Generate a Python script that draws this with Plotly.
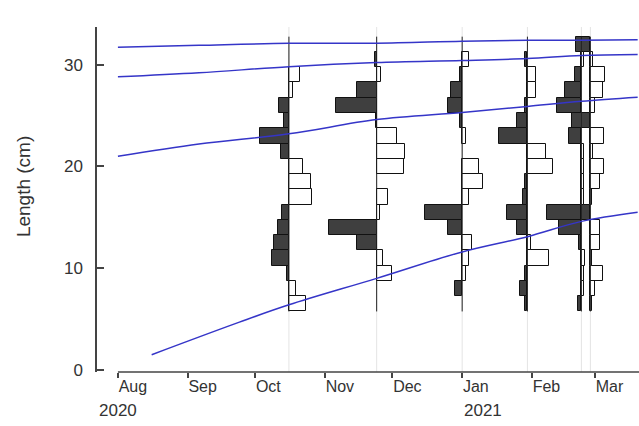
import pandas as pd
import plotly.graph_objects as go

# ---------------- data ----------------
ORIGIN = "2020-08-01"

bin_mid = [6.5, 8.0, 9.5, 11.0, 12.5, 14.0, 15.5, 17.0, 18.5, 20.0,
           21.5, 23.0, 24.5, 26.0, 27.5, 29.0, 30.5, 32.0]

sample_dates = ["2020-10-16", "2020-11-24", "2021-01-01",
                "2021-01-30", "2021-02-23", "2021-02-27"]

# restructured frequency scores per bin (bottom -> top)
score_s1 = [0.35, 0.15, -0.04, -0.36, -0.31, -0.23, -0.15, 0.48, 0.46, 0.29,
            -0.17, -0.60, -0.10, -0.21, 0.08, 0.23, 0, 0]
score_s2 = [0, 0, 0.33, 0.13, -0.40, -1.00, 0.06, 0.23, 0, 0.58,
            0.60, 0.42, -0.02, -0.85, -0.42, 0.08, -0.04, 0]
score_s3 = [0, -0.15, 0.08, 0.15, 0.21, -0.29, -0.77, 0.15, 0.44, 0.35,
            0, 0.08, -0.04, -0.29, -0.23, -0.04, 0.15, 0]
score_s4 = [-0.04, -0.15, -0.06, 0.46, 0.08, -0.21, -0.42, -0.10, -0.06, 0.54,
            0.38, -0.60, -0.21, -0.06, 0.17, 0.17, -0.04, 0]
score_s5 = [-0.08, 0.06, 0.06, 0.08, -0.06, -0.46, -0.71, 0.06, 0.06, 0.06,
            0.06, -0.25, -0.06, -0.50, -0.35, -0.13, 0.06, 0]
score_s6 = [0.04, 0.10, 0.27, 0.04, 0.21, 0.21, -0.19, 0.04, 0.21, 0.29,
            0.06, 0.29, -0.38, 0.10, 0.27, 0.31, 0.06, -0.31]
scores = [score_s1, score_s2, score_s3, score_s4, score_s5, score_s6]

# growth curves (cohorts): dates and lengths
curve_dates_a = ["2020-08-16", "2020-09-24", "2020-10-16", "2020-11-24",
                 "2021-01-01", "2021-01-30", "2021-02-23", "2021-03-20"]
curve_len_a = [1.5, 4.7, 6.4, 9.0, 11.6, 13.1, 14.6, 15.5]
curve_dates_bcd = ["2020-08-01", "2020-09-06", "2020-10-16", "2020-11-24",
                   "2021-01-01", "2021-01-30", "2021-02-23", "2021-03-20"]
curve_len_b = [21.0, 22.2, 23.2, 24.6, 25.3, 25.9, 26.4, 26.8]
curve_len_c = [28.8, 29.2, 29.8, 30.2, 30.4, 30.6, 30.9, 31.0]
curve_len_d = [31.7, 31.9, 32.1, 32.1, 32.3, 32.4, 32.4, 32.45]

month_starts = ["2020-08-01", "2020-09-01", "2020-10-01", "2020-11-01",
                "2020-12-01", "2021-01-01", "2021-02-01", "2021-03-01"]
month_labels = ["Aug", "Sep", "Oct", "Nov", "Dec", "Jan", "Feb", "Mar"]
year_labels = ["2020", "2021"]
y_ticks = [0, 10, 20, 30]

# ---------------- styling constants ----------------
BIN_W = 1.5
SCALE_DAYS = 21.3          # days of x per unit score
X_RANGE = [-9.3, 231.6]
Y_RANGE = [-0.2, 33.7]
FONT = "Liberation Sans, Arial, sans-serif"
TXT = "#333333"
AXC = "#444444"
BLUE = "#3535c8"


def day(s):
    return (pd.Timestamp(s) - pd.Timestamp(ORIGIN)).days


fig = go.Figure()

# light vertical lines at sampling dates
shapes = []
for d in sample_dates:
    shapes.append(dict(type="line", xref="x", yref="paper", x0=day(d), x1=day(d),
                       y0=0, y1=1, line=dict(color="#e4e4e4", width=1), layer="below"))

# bars
blk_y, blk_x, blk_b = [], [], []
wht_y, wht_x, wht_b = [], [], []
for d, sc in zip(sample_dates, scores):
    for m, v in zip(bin_mid, sc):
        if v < 0:
            blk_y.append(m); blk_x.append(v * SCALE_DAYS); blk_b.append(day(d))
        elif v > 0:
            wht_y.append(m); wht_x.append(v * SCALE_DAYS); wht_b.append(day(d))

fig.add_trace(go.Bar(orientation="h", y=blk_y, x=blk_x, base=blk_b, width=BIN_W,
                     marker=dict(color="#3f3f3f", line=dict(color="#111111", width=1)),
                     showlegend=False, hoverinfo="skip"))
fig.add_trace(go.Bar(orientation="h", y=wht_y, x=wht_x, base=wht_b, width=BIN_W,
                     marker=dict(color="white", line=dict(color="#111111", width=1)),
                     showlegend=False, hoverinfo="skip"))

# baselines for each sample
lo = bin_mid[0] - BIN_W / 2
hi = bin_mid[-1] + BIN_W / 2
for d in sample_dates:
    fig.add_trace(go.Scatter(x=[day(d), day(d)], y=[lo, hi], mode="lines",
                             line=dict(color="#222222", width=1),
                             showlegend=False, hoverinfo="skip"))

# growth curves
for dates, lens in [(curve_dates_a, curve_len_a), (curve_dates_bcd, curve_len_b),
                    (curve_dates_bcd, curve_len_c), (curve_dates_bcd, curve_len_d)]:
    fig.add_trace(go.Scatter(x=[day(d) for d in dates], y=lens, mode="lines",
                             line=dict(color=BLUE, width=1.5, shape="spline"),
                             showlegend=False, hoverinfo="skip"))

# x axis line (starts at first month tick)
shapes.append(dict(type="line", xref="x", yref="paper", x0=day(month_starts[0]),
                   x1=X_RANGE[1], y0=0, y1=0, line=dict(color=AXC, width=1.5)))

annotations = [
    dict(text="Length (cm)", xref="paper", yref="paper", x=-0.1365, y=0.536,
         textangle=-90, showarrow=False, font=dict(size=19, color=TXT, family=FONT),
         xanchor="center", yanchor="middle"),
    dict(text=year_labels[0], xref="paper", yref="paper", x=0, y=-0.113,
         showarrow=False, xanchor="left", yanchor="middle",
         font=dict(size=17, color=TXT, family=FONT)),
    dict(text=year_labels[1], xref="x", yref="paper", x=day("2021-01-01"), y=-0.113,
         showarrow=False, xanchor="left", yanchor="middle",
         font=dict(size=17, color=TXT, family=FONT)),
]

fig.update_layout(
    width=639, height=426,
    margin=dict(l=97, r=0, t=27, b=54),
    plot_bgcolor="white", paper_bgcolor="white",
    barmode="overlay", bargap=0,
    shapes=shapes, annotations=annotations,
    font=dict(family=FONT, color=TXT),
    xaxis=dict(range=X_RANGE, tickvals=[day(m) for m in month_starts],
               ticktext=month_labels, ticks="outside", ticklen=5, tickcolor=AXC,
               tickwidth=1.5, ticklabelposition="outside right",
               showline=False, showgrid=False, zeroline=False,
               tickfont=dict(size=16, color=TXT, family=FONT)),
    yaxis=dict(range=Y_RANGE, tickvals=y_ticks, ticks="inside", ticklen=7,
               tickcolor=AXC, tickwidth=1.5, showline=True, linecolor=AXC,
               linewidth=1.5, showgrid=False, zeroline=False,
               ticklabelstandoff=9,
               tickfont=dict(size=17, color=TXT, family=FONT)),
)

fig.write_html("out.html", config={"displayModeBar": False},
               post_script="document.body.style.margin='0';document.body.style.padding='0';")
